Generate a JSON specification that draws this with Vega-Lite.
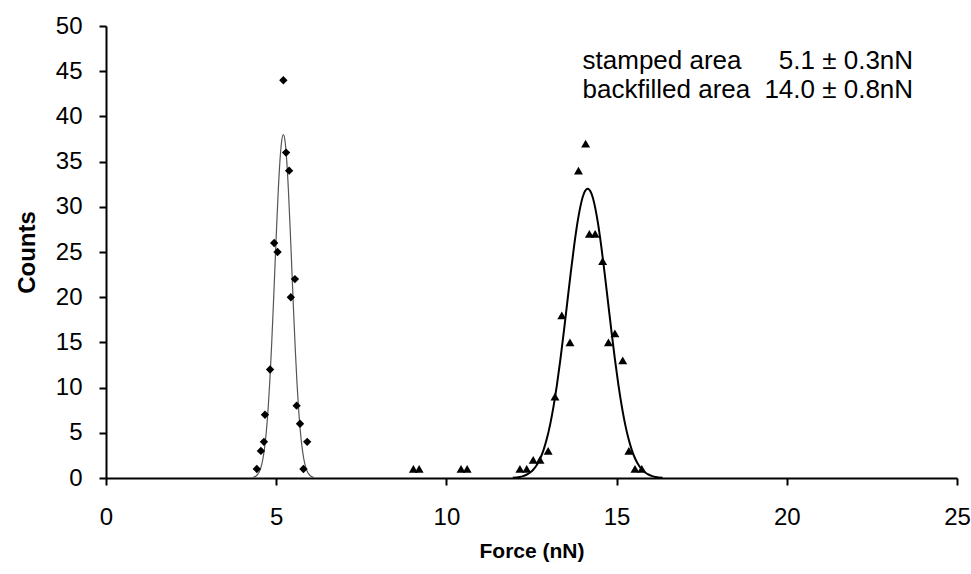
{
  "$schema": "https://vega.github.io/schema/vega-lite/v6.json",
  "width": 851,
  "height": 452,
  "autosize": "none",
  "padding": {"left": 106, "top": 26, "right": 14, "bottom": 96},
  "background": "white",
  "config": {
    "view": {"stroke": null},
    "font": "Liberation Sans",
    "axis": {
      "grid": false,
      "domainColor": "black",
      "domainWidth": 2,
      "tickColor": "black",
      "tickWidth": 2,
      "tickSize": 7,
      "labelFont": "Liberation Sans",
      "labelFontSize": 24,
      "labelColor": "black",
      "titleFont": "Liberation Sans",
      "titleFontWeight": "bold",
      "titleColor": "black"
    }
  },
  "datasets": {
    "stamped": [
      {"force": 4.43, "counts": 1}, {"force": 4.55, "counts": 3}, {"force": 4.64, "counts": 4},
      {"force": 4.67, "counts": 7}, {"force": 4.82, "counts": 12}, {"force": 4.94, "counts": 26},
      {"force": 5.04, "counts": 25}, {"force": 5.21, "counts": 44}, {"force": 5.29, "counts": 36},
      {"force": 5.38, "counts": 34}, {"force": 5.43, "counts": 20}, {"force": 5.55, "counts": 22},
      {"force": 5.60, "counts": 8}, {"force": 5.70, "counts": 6}, {"force": 5.80, "counts": 1},
      {"force": 5.91, "counts": 4}
    ],
    "backfilled": [
      {"force": 9.03, "counts": 1}, {"force": 9.20, "counts": 1}, {"force": 10.43, "counts": 1},
      {"force": 10.61, "counts": 1}, {"force": 12.16, "counts": 1}, {"force": 12.36, "counts": 1},
      {"force": 12.55, "counts": 2}, {"force": 12.75, "counts": 2}, {"force": 12.99, "counts": 3},
      {"force": 13.19, "counts": 9}, {"force": 13.39, "counts": 18}, {"force": 13.63, "counts": 15},
      {"force": 13.88, "counts": 34}, {"force": 14.09, "counts": 37}, {"force": 14.20, "counts": 27},
      {"force": 14.37, "counts": 27}, {"force": 14.59, "counts": 24}, {"force": 14.76, "counts": 15},
      {"force": 14.95, "counts": 16}, {"force": 15.18, "counts": 13}, {"force": 15.36, "counts": 3},
      {"force": 15.54, "counts": 1}, {"force": 15.74, "counts": 1}
    ],
    "fit1": [
      {"force": 4.31, "counts": 0.06}, {"force": 4.41, "counts": 0.23}, {"force": 4.46, "counts": 0.42},
      {"force": 4.51, "counts": 0.75}, {"force": 4.56, "counts": 1.29}, {"force": 4.61, "counts": 2.13},
      {"force": 4.66, "counts": 3.38}, {"force": 4.71, "counts": 5.14}, {"force": 4.76, "counts": 7.52},
      {"force": 4.81, "counts": 10.56}, {"force": 4.86, "counts": 14.26}, {"force": 4.91, "counts": 18.5},
      {"force": 4.96, "counts": 23.05}, {"force": 5.01, "counts": 27.59}, {"force": 5.06, "counts": 31.74},
      {"force": 5.11, "counts": 35.08}, {"force": 5.16, "counts": 37.25}, {"force": 5.21, "counts": 38},
      {"force": 5.26, "counts": 37.25}, {"force": 5.31, "counts": 35.08}, {"force": 5.36, "counts": 31.74},
      {"force": 5.41, "counts": 27.59}, {"force": 5.46, "counts": 23.05}, {"force": 5.51, "counts": 18.5},
      {"force": 5.56, "counts": 14.26}, {"force": 5.61, "counts": 10.56}, {"force": 5.66, "counts": 7.52},
      {"force": 5.71, "counts": 5.14}, {"force": 5.76, "counts": 3.38}, {"force": 5.81, "counts": 2.13},
      {"force": 5.86, "counts": 1.29}, {"force": 5.91, "counts": 0.75}, {"force": 5.96, "counts": 0.42},
      {"force": 6.01, "counts": 0.23}, {"force": 6.11, "counts": 0.06}
    ],
    "fit2": [
      {"force": 11.95, "counts": 0.04}, {"force": 12.15, "counts": 0.12}, {"force": 12.25, "counts": 0.21},
      {"force": 12.35, "counts": 0.36}, {"force": 12.45, "counts": 0.58}, {"force": 12.55, "counts": 0.91},
      {"force": 12.65, "counts": 1.41}, {"force": 12.75, "counts": 2.1}, {"force": 12.85, "counts": 3.06},
      {"force": 12.95, "counts": 4.33}, {"force": 13.05, "counts": 5.96}, {"force": 13.15, "counts": 7.98},
      {"force": 13.25, "counts": 10.39}, {"force": 13.35, "counts": 13.16}, {"force": 13.45, "counts": 16.2},
      {"force": 13.55, "counts": 19.41}, {"force": 13.65, "counts": 22.61}, {"force": 13.75, "counts": 25.62},
      {"force": 13.85, "counts": 28.24}, {"force": 13.95, "counts": 30.27}, {"force": 14.05, "counts": 31.56},
      {"force": 14.15, "counts": 32}, {"force": 14.25, "counts": 31.56}, {"force": 14.35, "counts": 30.27},
      {"force": 14.45, "counts": 28.24}, {"force": 14.55, "counts": 25.62}, {"force": 14.65, "counts": 22.61},
      {"force": 14.75, "counts": 19.41}, {"force": 14.85, "counts": 16.2}, {"force": 14.95, "counts": 13.16},
      {"force": 15.05, "counts": 10.39}, {"force": 15.15, "counts": 7.98}, {"force": 15.25, "counts": 5.96},
      {"force": 15.35, "counts": 4.33}, {"force": 15.45, "counts": 3.06}, {"force": 15.55, "counts": 2.1},
      {"force": 15.65, "counts": 1.41}, {"force": 15.75, "counts": 0.91}, {"force": 15.85, "counts": 0.58},
      {"force": 15.95, "counts": 0.36}, {"force": 16.05, "counts": 0.21}, {"force": 16.15, "counts": 0.12},
      {"force": 16.35, "counts": 0.04}
    ],
    "labels": [
      {"force": 14.0, "counts": 45.2, "text": "stamped area"},
      {"force": 14.0, "counts": 42.0, "text": "backfilled area"}
    ],
    "values": [
      {"force": 23.71, "counts": 45.2, "text": "5.1 ± 0.3nN"},
      {"force": 23.71, "counts": 42.0, "text": "14.0 ± 0.8nN"}
    ]
  },
  "encoding": {
    "x": {
      "field": "force", "type": "quantitative",
      "scale": {"domain": [0, 25], "nice": false, "zero": false},
      "axis": {"title": "Force (nN)", "values": [0, 5, 10, 15, 20, 25], "labelPadding": 20, "titleFontSize": 21, "titlePadding": 11, "labelFlush": false}
    },
    "y": {
      "field": "counts", "type": "quantitative",
      "scale": {"domain": [0, 50], "nice": false},
      "axis": {"title": "Counts", "values": [0, 5, 10, 15, 20, 25, 30, 35, 40, 45, 50], "labelPadding": 17, "titleFontSize": 24, "titlePadding": 16, "labelFlush": false}
    }
  },
  "layer": [
    {
      "data": {"name": "fit1"},
      "mark": {"type": "line", "color": "#555555", "strokeWidth": 1.2, "interpolate": "monotone"}
    },
    {
      "data": {"name": "fit2"},
      "mark": {"type": "line", "color": "black", "strokeWidth": 2, "interpolate": "monotone"}
    },
    {
      "data": {"name": "stamped"},
      "mark": {"type": "point", "shape": "diamond", "filled": true, "color": "black", "size": 70, "opacity": 1}
    },
    {
      "data": {"name": "backfilled"},
      "mark": {"type": "point", "shape": "triangle-up", "filled": true, "color": "black", "size": 80, "opacity": 1}
    },
    {
      "data": {"name": "labels"},
      "mark": {"type": "text", "align": "left", "baseline": "alphabetic", "fontSize": 26, "font": "Liberation Sans", "color": "black"},
      "encoding": {"text": {"field": "text"}}
    },
    {
      "data": {"name": "values"},
      "mark": {"type": "text", "align": "right", "baseline": "alphabetic", "fontSize": 26, "font": "Liberation Sans", "color": "black"},
      "encoding": {"text": {"field": "text"}}
    }
  ]
}
